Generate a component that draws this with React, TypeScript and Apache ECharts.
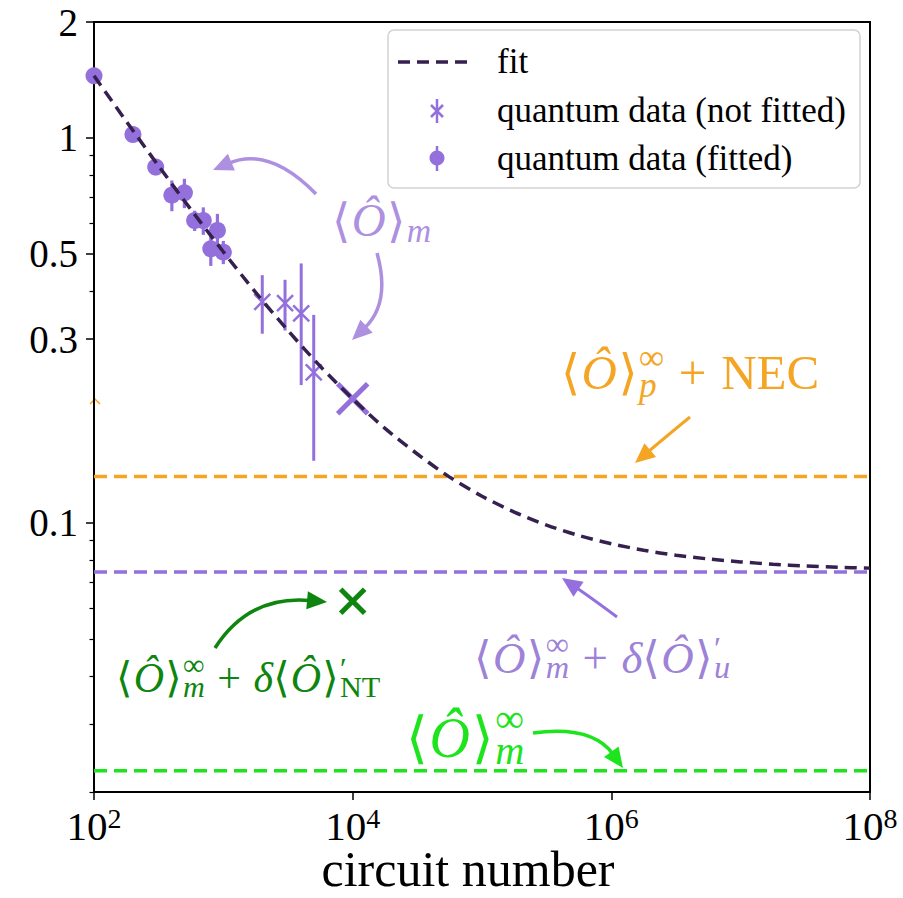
import React, { useEffect, useRef } from "react";
import * as echarts from "echarts";

const SERIF = '"Liberation Serif", "Times New Roman", serif';
const BRACKET = '"DejaVu Sans", "DejaVu Serif", sans-serif';

// ---- axis ticks ----
const xTickValues = [1e2, 1e4, 1e6, 1e8];
const yTickLabels = [0.1, 0.3, 0.5, 1, 2];
const yMinorTicks = [0.02, 0.03, 0.04, 0.05, 0.06, 0.07, 0.08, 0.09, 0.4, 0.6, 0.7, 0.8, 0.9];

// ---- fit curve ----
const fitX = [100, 177.8, 316.2, 562.3, 1000, 1778, 3162, 5623, 1e4, 17783, 31623, 56234, 1e5, 177828, 316228, 562341, 1e6, 1778279, 3162278, 5623413, 1e7, 17782794, 31622777, 56234133, 1e8];
const fitY = [1.45, 1.104, 0.845, 0.651, 0.506, 0.397, 0.316, 0.255, 0.21, 0.176, 0.151, 0.1315, 0.1173, 0.1067, 0.0987, 0.0927, 0.0883, 0.0849, 0.0824, 0.0806, 0.0792, 0.0781, 0.0773, 0.0767, 0.0763];

// ---- quantum data (fitted) ----
const fittedX = [100, 200, 300, 400, 500, 600, 700, 800, 900, 1000];
const fittedY = [1.45, 1.02, 0.84, 0.71, 0.72, 0.61, 0.61, 0.515, 0.575, 0.505];
const fittedErr = [0.05, 0.04, 0.04, 0.065, 0.063, 0.037, 0.05, 0.05, 0.06, 0.035];

// ---- quantum data (not fitted) ----
const notFittedX = [2000, 3000, 4000, 5000];
const notFittedY = [0.375, 0.372, 0.35, 0.246];
const notFittedErr = [0.065, 0.056, 0.122, 0.101];

// ---- single big markers ----
const bigX = [1e4];
const bigY = [0.21];
const ntX = [1e4];
const ntY = [0.0626];

// ---- horizontal levels ----
const necLevel = 0.132;
const uLevel = 0.0745;
const infLevel = 0.0227;

const C_FIT = "#35204f";
const C_PURPLE = "#9370db";
const C_LAV = "#ad90e0";
const C_LAV2 = "#9d82d8";
const C_ORANGE = "#f5a524";
const C_GREEN = "#0e850e";
const C_LIME = "#1ee41e";

type Piece = { t: string; k: "i" | "r" | "b"; sc?: number; dy?: number; stack?: boolean; gap?: number };

function mathText(pieces: Piece[], x0: number, y0: number, size: number, color: string) {
  const cv = document.createElement("canvas");
  const ctx = cv.getContext("2d")!;
  let x = x0;
  let stackW = 0;
  const out: any[] = [];
  for (const p of pieces) {
    const sc = p.sc ?? 1;
    const fs = size * sc;
    const family = p.k === "b" ? BRACKET : SERIF;
    const fstyle = p.k === "i" ? "italic" : "normal";
    ctx.font = `${fstyle} ${fs}px ${family}`;
    const w = ctx.measureText(p.t).width;
    x += (p.gap ?? 0) * size;
    const base = y0 + (p.dy ?? 0) * size;
    out.push({
      type: "text",
      x,
      y: base - 0.34 * fs,
      silent: true,
      style: {
        text: p.t,
        fontSize: fs,
        fontFamily: family,
        fontStyle: fstyle,
        fill: color,
        align: "left",
        verticalAlign: "middle",
        lineHeight: sc < 1 ? fs * 0.6 : fs,
      },
    });
    if (p.stack) {
      stackW = w;
    } else {
      x += Math.max(w, stackW);
      stackW = 0;
    }
  }
  return out;
}

function arrow(x0: number, y0: number, cx: number, cy: number, x1: number, y1: number, color: string, width = 3, head = 20, hw = 9) {
  const dx = x1 - cx;
  const dy = y1 - cy;
  const L = Math.hypot(dx, dy);
  const ux = dx / L;
  const uy = dy / L;
  const bx = x1 - ux * head;
  const by = y1 - uy * head;
  const px = -uy;
  const py = ux;
  return [
    {
      type: "bezierCurve",
      silent: true,
      shape: { x1: x0, y1: y0, x2: bx + ux * 3, y2: by + uy * 3, cpx1: cx, cpy1: cy },
      style: { stroke: color, lineWidth: width, fill: "none" },
    },
    {
      type: "polygon",
      silent: true,
      shape: { points: [[x1, y1], [bx + px * hw, by + py * hw], [bx - px * hw, by - py * hw]] },
      style: { fill: color },
    },
  ];
}

const SUP = -0.4;
const SUB = 0.12;
const S = 0.72;
const G = 0.3;
const OB: Piece[] = [
  { t: "⟨", k: "b" },
  { t: "Ô", k: "i", gap: 0.03 },
  { t: "⟩", k: "b", gap: 0.03 },
];

function App() {
  const ref = useRef<HTMLDivElement>(null);
  useEffect(() => {
    if (!ref.current) return;
    const chart = echarts.init(ref.current, null, { renderer: "svg" });

    const fitData = fitX.map((x, i) => [x, fitY[i]]);
    const fittedData = fittedX.map((x, i) => [x, fittedY[i], fittedY[i] - fittedErr[i], fittedY[i] + fittedErr[i]]);
    const notFittedData = notFittedX.map((x, i) => [x, notFittedY[i], notFittedY[i] - notFittedErr[i], notFittedY[i] + notFittedErr[i]]);
    const hline = (v: number) => [[xTickValues[0], v], [xTickValues[xTickValues.length - 1], v]];

    const bigCross = (color: string, half: number, lw: number) => (params: any, api: any) => {
      const p = api.coord([api.value(0), api.value(1)]);
      return {
        type: "group",
        children: [
          { type: "line", shape: { x1: p[0] - half, y1: p[1] - half, x2: p[0] + half, y2: p[1] + half }, style: { stroke: color, lineWidth: lw } },
          { type: "line", shape: { x1: p[0] - half, y1: p[1] + half, x2: p[0] + half, y2: p[1] - half }, style: { stroke: color, lineWidth: lw } },
        ],
      };
    };

    const annotations: any[] = [
      ...mathText([...OB, { t: "m", k: "i", sc: S, dy: SUB, gap: 0.03 }], 332, 236, 47, C_LAV),
      ...mathText(
        [...OB, { t: "∞", k: "r", sc: S, dy: SUP, stack: true, gap: 0.03 }, { t: "p", k: "i", sc: S, dy: SUB + 0.06 }, { t: "+", k: "r", gap: G }, { t: "NEC", k: "r", gap: G }],
        561, 389, 49, C_ORANGE
      ),
      ...mathText(
        [...OB, { t: "∞", k: "r", sc: S, dy: SUP, stack: true, gap: 0.03 }, { t: "m", k: "i", sc: S, dy: SUB }, { t: "+", k: "r", gap: G }, { t: "δ", k: "i", gap: G }, ...OB, { t: "′", k: "r", sc: S, dy: SUP * 0.8, stack: true, gap: 0.03 }, { t: "u", k: "i", sc: S, dy: SUB }],
        474, 673, 45, C_LAV2
      ),
      ...mathText(
        [...OB, { t: "∞", k: "r", sc: S, dy: SUP, stack: true, gap: 0.03 }, { t: "m", k: "i", sc: S, dy: SUB }, { t: "+", k: "r", gap: G }, { t: "δ", k: "i", gap: G }, ...OB, { t: "′", k: "r", sc: S, dy: SUP * 0.8, stack: true, gap: 0.03 }, { t: "NT", k: "r", sc: S, dy: SUB }],
        116, 692, 42, C_GREEN
      ),
      ...mathText([...OB, { t: "∞", k: "r", sc: S, dy: SUP - 0.05, stack: true, gap: 0.03 }, { t: "m", k: "i", sc: S, dy: SUB }], 406, 757, 56, C_LIME),
      ...arrow(316, 194, 269, 146, 213, 170, C_LAV, 3.5),
      ...arrow(377, 253, 391, 303, 352, 340, C_LAV, 3.5),
      ...arrow(690, 417, 662, 440, 635, 463, C_ORANGE, 3),
      ...arrow(617, 617, 590, 597, 562, 578, C_PURPLE, 3),
      ...arrow(215, 648, 249, 595, 327, 602, C_GREEN, 3.5),
      ...arrow(533, 733, 592, 725, 623, 768, C_LIME, 3.5),
      {
        type: "polyline",
        silent: true,
        shape: { points: [[90, 404], [95, 399], [100, 404]] },
        style: { stroke: C_ORANGE, lineWidth: 1.5, fill: "none" },
      },
    ];

    const legendFont = 35;
    const legend: any[] = [
      { type: "rect", shape: { x: 388, y: 30, width: 472, height: 158, r: 6 }, style: { fill: "rgba(255,255,255,0.85)", stroke: "#d2d2d2", lineWidth: 1.5 } },
      { type: "line", shape: { x1: 398, y1: 62, x2: 470, y2: 62 }, style: { stroke: C_FIT, lineWidth: 3.5, lineDash: [12, 7] } },
      { type: "text", x: 497, y: 61, style: { text: "fit", fontSize: legendFont, fontFamily: SERIF, fill: "#000", align: "left", verticalAlign: "middle" } },
      { type: "line", shape: { x1: 437, y1: 99, x2: 437, y2: 123 }, style: { stroke: C_PURPLE, lineWidth: 2.5 } },
      { type: "line", shape: { x1: 431, y1: 105, x2: 443, y2: 117 }, style: { stroke: C_PURPLE, lineWidth: 2.5 } },
      { type: "line", shape: { x1: 431, y1: 117, x2: 443, y2: 105 }, style: { stroke: C_PURPLE, lineWidth: 2.5 } },
      { type: "text", x: 497, y: 110, style: { text: "quantum data (not fitted)", fontSize: legendFont, fontFamily: SERIF, fill: "#000", align: "left", verticalAlign: "middle" } },
      { type: "line", shape: { x1: 437, y1: 146, x2: 437, y2: 171 }, style: { stroke: C_PURPLE, lineWidth: 2.5 } },
      { type: "circle", shape: { cx: 437, cy: 158, r: 7.5 }, style: { fill: C_PURPLE } },
      { type: "text", x: 497, y: 158, style: { text: "quantum data (fitted)", fontSize: legendFont, fontFamily: SERIF, fill: "#000", align: "left", verticalAlign: "middle" } },
    ];

    chart.setOption({
      animation: false,
      backgroundColor: "#ffffff",
      textStyle: { fontFamily: SERIF },
      grid: { left: 94, right: 33, top: 22, bottom: 106, show: true, borderColor: "#000", borderWidth: 2, outerBoundsMode: "none", containLabel: false },
      xAxis: {
        type: "log",
        logBase: 10,
        min: 1e2,
        max: 1e8,
        name: "circuit number",
        nameLocation: "middle",
        nameGap: 52,
        nameMoveOverlap: false,
        nameTextStyle: { fontSize: 50, fontFamily: SERIF, color: "#000", verticalAlign: "top", padding: [0, 28, 0, 0] },
        axisLine: { show: true, lineStyle: { color: "#000", width: 2 } },
        axisTick: { show: true, inside: false, length: 8, lineStyle: { color: "#000", width: 1.5 }, customValues: xTickValues },
        axisLabel: {
          customValues: xTickValues,
          margin: 12,
          color: "#000",
          formatter: (v: number) => `{b|10}{s|${Math.round(Math.log10(v))}}`,
          rich: {
            b: { fontSize: 41, fontFamily: SERIF, color: "#000", lineHeight: 44 },
            s: { fontSize: 28, fontFamily: SERIF, color: "#000", lineHeight: 30, verticalAlign: "top" },
          },
        },
        splitLine: { show: false },
        minorTick: { show: false },
      },
      yAxis: [
        {
          type: "log",
          logBase: 10,
          min: 0.02,
          max: 2,
          axisLine: { show: true, lineStyle: { color: "#000", width: 2 } },
          axisTick: { show: true, inside: false, length: 8, lineStyle: { color: "#000", width: 1.5 }, customValues: yTickLabels },
          axisLabel: {
            customValues: yTickLabels,
            margin: 16,
            color: "#000",
            fontSize: 39,
            fontFamily: SERIF,
            formatter: (v: number) => String(parseFloat(Number(v).toPrecision(4))),
          },
          splitLine: { show: false },
        },
        {
          type: "log",
          logBase: 10,
          min: 0.02,
          max: 2,
          position: "left",
          axisLine: { show: false },
          axisTick: { show: true, inside: false, length: 4.5, lineStyle: { color: "#000", width: 1.2 }, customValues: yMinorTicks },
          axisLabel: { show: false },
          splitLine: { show: false },
        },
      ],
      series: [
        { type: "line", name: "nec", data: hline(necLevel), showSymbol: false, symbol: "none", z: 1, lineStyle: { color: C_ORANGE, width: 3.5, type: [13, 7] } },
        { type: "line", name: "u", data: hline(uLevel), showSymbol: false, symbol: "none", z: 1, lineStyle: { color: C_PURPLE, width: 3.5, type: [13, 7] } },
        { type: "line", name: "inf", data: hline(infLevel), showSymbol: false, symbol: "none", z: 1, lineStyle: { color: C_LIME, width: 3.5, type: [13, 7] } },
        {
          type: "custom",
          name: "fitted err",
          z: 2,
          data: fittedData,
          encode: { x: 0, y: 1 },
          renderItem: (params: any, api: any) => {
            const x = api.value(0);
            const lo = api.coord([x, api.value(2)]);
            const hi = api.coord([x, api.value(3)]);
            return { type: "line", shape: { x1: lo[0], y1: lo[1], x2: hi[0], y2: hi[1] }, style: { stroke: C_PURPLE, lineWidth: 3.2 } };
          },
        },
        {
          type: "scatter",
          name: "quantum data (fitted)",
          z: 3,
          data: fittedX.map((x, i) => [x, fittedY[i]]),
          symbol: "circle",
          symbolSize: 17,
          itemStyle: { color: C_PURPLE, opacity: 1 },
        },
        {
          type: "custom",
          name: "quantum data (not fitted)",
          z: 3,
          data: notFittedData,
          encode: { x: 0, y: 1 },
          renderItem: (params: any, api: any) => {
            const x = api.value(0);
            const p = api.coord([x, api.value(1)]);
            const lo = api.coord([x, api.value(2)]);
            const hi = api.coord([x, api.value(3)]);
            const h = 8;
            const st = { stroke: C_PURPLE, lineWidth: 2.5 };
            return {
              type: "group",
              children: [
                { type: "line", shape: { x1: lo[0], y1: lo[1], x2: hi[0], y2: hi[1] }, style: { ...st, lineWidth: 3 } },
                { type: "line", shape: { x1: p[0] - h, y1: p[1] - h, x2: p[0] + h, y2: p[1] + h }, style: st },
                { type: "line", shape: { x1: p[0] - h, y1: p[1] + h, x2: p[0] + h, y2: p[1] - h }, style: st },
              ],
            };
          },
        },
        { type: "custom", name: "big", z: 3, data: bigX.map((x, i) => [x, bigY[i]]), encode: { x: 0, y: 1 }, renderItem: bigCross(C_PURPLE, 15, 5) },
        { type: "custom", name: "nt", z: 3, data: ntX.map((x, i) => [x, ntY[i]]), encode: { x: 0, y: 1 }, renderItem: bigCross(C_GREEN, 12, 5) },
        {
          type: "line",
          name: "fit",
          z: 5,
          data: fitData,
          smooth: 0.3,
          showSymbol: false,
          symbol: "none",
          lineStyle: { color: C_FIT, width: 3.5, type: [12, 7] },
        },
      ],
      graphic: [...annotations, ...legend],
    });
    return () => chart.dispose();
  }, []);
  return <div ref={ref} style={{ position: "fixed", left: 0, top: 0, width: 903, height: 898, background: "#fff" }} />;
}

export default App;
